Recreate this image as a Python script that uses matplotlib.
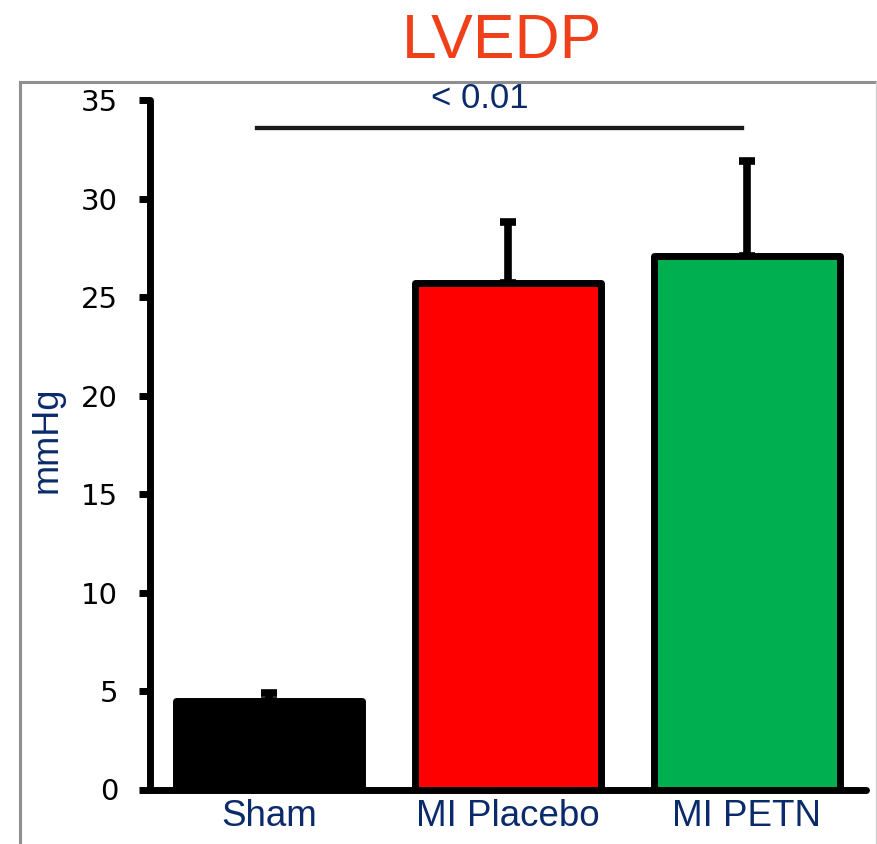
import matplotlib
matplotlib.use('Agg')
import matplotlib.pyplot as plt
from matplotlib.lines import Line2D

# LVEDP by group (mean and upper SEM)
groups = ['Sham', 'MI Placebo', 'MI PETN']
means = [4.5, 25.7, 27.1]
sem = [0.4, 3.1, 4.8]
bar_colors = ['#000000', '#FF0000', '#00B050']
yticks = [0, 5, 10, 15, 20, 25, 30, 35]
p_label = '< 0.01'

navy = '#0B2A6B'
arial = ['Liberation Sans', 'DejaVu Sans']

fig = plt.figure(figsize=(8.77, 8.44), dpi=100)
ax = fig.add_axes([150 / 877, 1 - 789.5 / 844, 716 / 877, 689.5 / 844])

x = list(range(len(groups)))
bars = ax.bar(x, means, width=0.78, color=bar_colors, edgecolor='black',
              linewidth=5, zorder=2)
for b in bars:
    b.set_joinstyle('round')

ax.errorbar(x, means, yerr=[[0] * len(sem), sem], fmt='none', ecolor='black',
            elinewidth=5.5, capsize=6, capthick=5.5, zorder=3)

ax.set_xlim(-0.5, 2.5)
ax.set_ylim(0, 35)
ax.set_yticks(yticks)
ax.set_xticks(x)
ax.set_xticklabels(groups, fontsize=26.5, color=navy, family=arial)
ax.tick_params(axis='x', length=0, pad=7)
ax.tick_params(axis='y', length=8, width=5, pad=15, labelsize=21)

for side in ['top', 'right']:
    ax.spines[side].set_visible(False)
for side in ['left', 'bottom']:
    ax.spines[side].set_linewidth(5)
    ax.spines[side].set_capstyle('round')

# significance bracket
ax.plot([-0.05, 1.98], [33.6, 33.6], color='#1A1A1A', linewidth=3.1,
        clip_on=False, zorder=4)
ax.text(0.88, 35.1, p_label, ha='center', va='center', fontsize=25,
        color=navy, family=arial, clip_on=False)

fig.text(47 / 877, 1 - 440 / 844, 'mmHg', rotation=90, ha='center',
         va='center', fontsize=26, color=navy, family=arial)
fig.text(502 / 877, 1 - 58 / 844, 'LVEDP', ha='center', va='baseline',
         fontsize=45, color='#F0401A', family=arial)

# outer frame
frame = dict(color='#8F8F8F', linewidth=2.2, transform=fig.transFigure)
fig.add_artist(Line2D([20 / 877, 20 / 877], [0, 1 - 81.5 / 844], **frame))
fig.add_artist(Line2D([20 / 877, 876 / 877], [1 - 81.5 / 844, 1 - 81.5 / 844], **frame))
fig.add_artist(Line2D([876 / 877, 876 / 877], [0, 1 - 81.5 / 844],
                      color='#D0D0D0', linewidth=1, transform=fig.transFigure))

fig.savefig('out.png', dpi=100)
